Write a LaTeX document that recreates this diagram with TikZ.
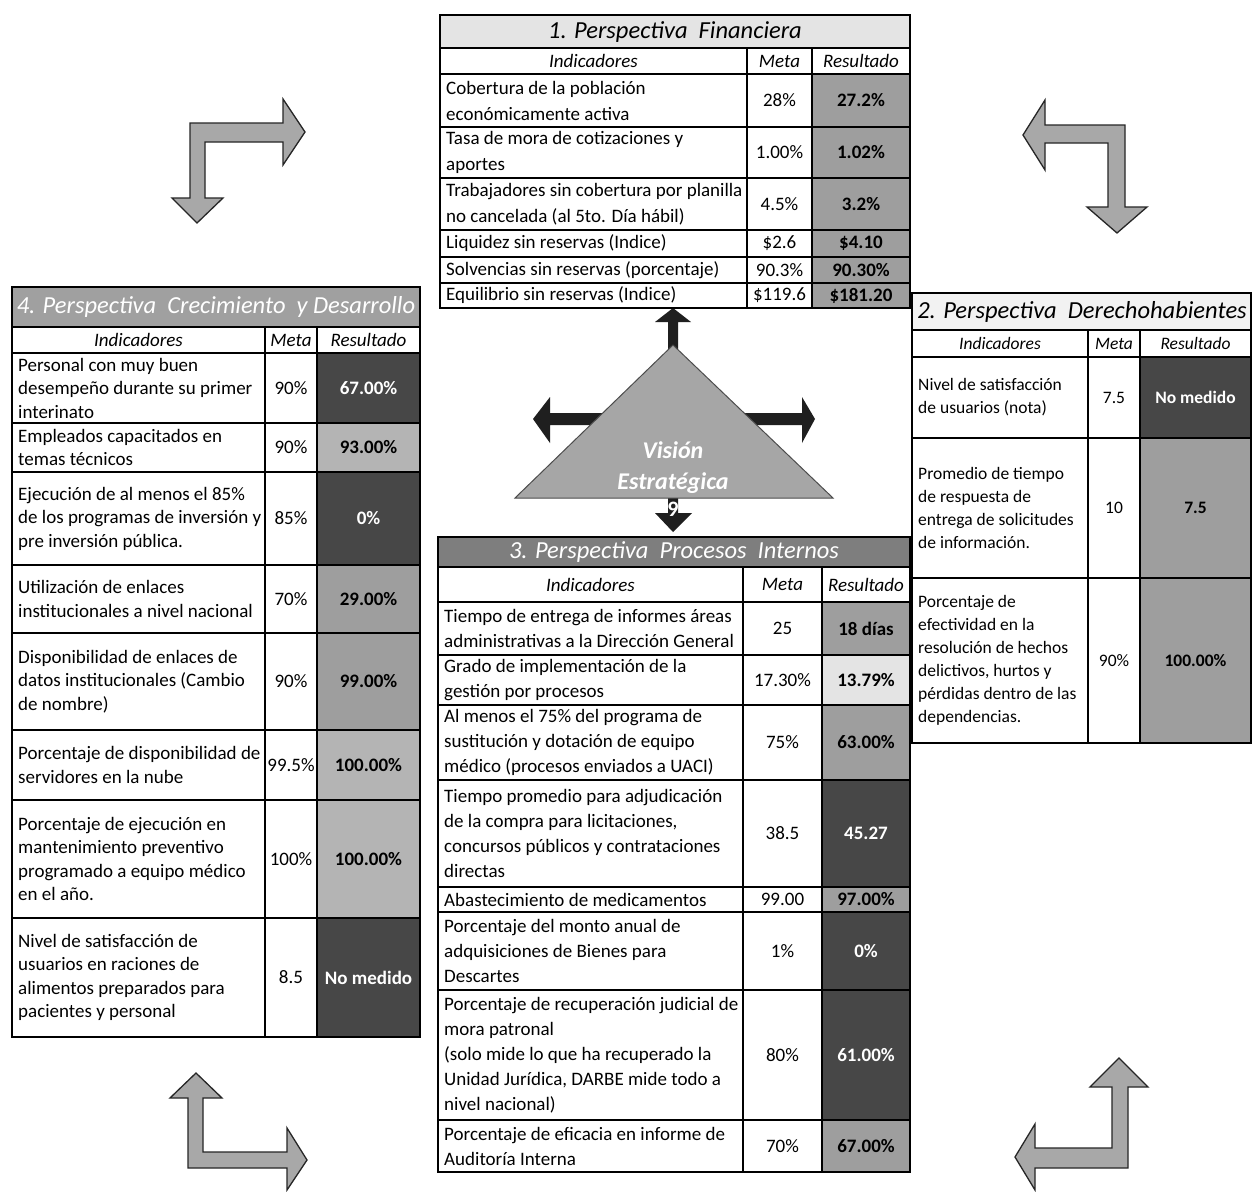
\documentclass[tikz,border=0pt]{standalone}
\usepackage{fontspec}
\setmainfont{Carlito}
\definecolor{dkgray}{HTML}{474747}
\definecolor{mdgray}{HTML}{9E9E9E}
\definecolor{ltgray}{HTML}{B4B4B4}
\definecolor{vlgray}{HTML}{E4E4E4}
\definecolor{xlgray}{HTML}{F2F2F2}
\definecolor{ttlgray}{HTML}{A0A0A0}
\definecolor{procgray}{HTML}{7E7E7E}
\definecolor{arrowgray}{HTML}{A8A8A8}
\definecolor{trigray}{HTML}{A6A6A6}
\def\fsz{19bp}\def\rowskip{25bp}
\newcommand\thead[3]{%
  \draw[grid] (\cA,#2) -- (\cD,#2) (\cA,#3) -- (\cD,#3);
  \node[hd] (#1hi) at ({(\cA+\cB)/2},{(#2+#3)/2}) {Indicadores};
  \node[hd] (#1hm) at ({(\cB+\cC)/2},{(#2+#3)/2}) {Meta};
  \node[hd] (#1hr) at ({(\cC+\cD)/2},{(#2+#3)/2}) {Resultado};
}
\newcommand\trow[8]{%
  \fill[#7] (\cC,#2) rectangle (\cD,#3);
  \draw[grid] (\cA,#2) -- (\cD,#2) (\cA,#3) -- (\cD,#3);
  \node[ind] (#1i) at ({\cA+6},{(#2+#3)/2}) {#4};
  \node[met] (#1m) at ({(\cB+\cC)/2},{(#2+#3)/2}) {#5};
  \node[res,text=#8] (#1r) at ({(\cC+\cD)/2},{(#2+#3)/2}) {#6};
}
\newcommand\tframe[3]{%
  \draw[grid] (\cB,#1) -- (\cB,#2) (\cC,#1) -- (\cC,#2);
  \draw[outer] (\cA,#3) rectangle (\cD,#2);
}
\begin{document}
\begin{tikzpicture}[x=1bp,y=-1bp,
  grid/.style={line width=1.6bp,black},
  outer/.style={line width=2.2bp,black},
  ind/.style={font=\fontsize{\fsz}{\rowskip}\selectfont, align=left, anchor=west, inner sep=0pt},
  met/.style={font=\fontsize{\fsz}{\rowskip}\selectfont, inner sep=0pt},
  res/.style={font=\fontsize{\fsz}{\rowskip}\selectfont\bfseries, inner sep=0pt},
  hd/.style={font=\fontsize{\fsz}{\rowskip}\selectfont\itshape, inner sep=0pt},
  ttl/.style={font=\fontsize{24.5bp}{28bp}\selectfont\itshape, inner sep=0pt},
  bendarrow/.style={fill=arrowgray, draw=black!85, line width=1.3bp, line join=miter},
  blkarrow/.style={fill=black!88, draw=none},
]
\useasboundingbox[fill=white] (0,0) rectangle (1252,1192);

% ---------- bent arrows ----------
\draw[bendarrow] (190,198) -- (172,198) -- (197,223) -- (223,198) -- (205,198) -- (205,142) -- (283,142) -- (283,165) -- (305,132) -- (283,99) -- (283,123) -- (190,123) -- cycle;
\draw[bendarrow] (1108,207) -- (1087,207) -- (1117,233) -- (1147,207) -- (1125,207) -- (1125,125) -- (1045,125) -- (1045,100) -- (1023,135) -- (1045,170) -- (1045,143) -- (1108,143) -- cycle;
\draw[bendarrow] (188,1168) -- (188,1098) -- (170,1098) -- (196,1073) -- (222,1098) -- (203,1098) -- (203,1152) -- (287,1152) -- (287,1128) -- (307,1160) -- (287,1190) -- (287,1168) -- cycle;
\draw[bendarrow] (1128,1168) -- (1128,1087) -- (1148,1087) -- (1119,1058) -- (1090,1087) -- (1112,1087) -- (1112,1148) -- (1035,1148) -- (1035,1124) -- (1015,1157) -- (1035,1190) -- (1035,1168) -- cycle;

% ---------- central vision ----------
\fill[blkarrow] (668,350) -- (668,322) -- (655,322) -- (673,308) -- (691,322) -- (678,322) -- (678,350) -- cycle;
\fill[blkarrow] (620,413) -- (550,413) -- (550,397) -- (533,419) -- (550,443) -- (550,425) -- (620,425) -- cycle;
\fill[blkarrow] (730,413) -- (802,413) -- (802,397) -- (815,419) -- (802,443) -- (802,425) -- (730,425) -- cycle;
\fill[blkarrow] (668,495) -- (668,513) -- (655,513) -- (673,532) -- (692,513) -- (678,513) -- (678,495) -- cycle;
\draw[fill=trigray, draw=black!70, line width=1bp] (673,345) -- (833,498) -- (515,498) -- cycle;
\node[font=\fontsize{24bp}{31bp}\selectfont\itshape\bfseries, text=white, align=center, inner sep=0pt] (vis) at (673,468) {Visión\\Estratégica};
\node[font=\fontsize{22bp}{24bp}\selectfont\bfseries, text=white, inner sep=0pt] (nine) at (673,509) {9};

% ---------- 1. Financiera ----------
\def\cA{440}\def\cB{747}\def\cC{812}\def\cD{910}
\def\rowskip{26bp}
\fill[vlgray] (\cA,15) rectangle (\cD,48);
\node[ttl] (fT) at (675,32) {1. Perspectiva\ \ Financiera};
\thead{f}{48}{74}
\trow{fa}{74}{127}{Cobertura de la población\\económicamente activa}{28\%}{27.2\%}{mdgray}{black}
\trow{fb}{127}{178}{Tasa de mora de cotizaciones y\\aportes}{1.00\%}{1.02\%}{mdgray}{black}
\trow{fc}{178}{230}{Trabajadores sin cobertura por planilla\\no cancelada (al 5to. Día hábil)}{4.5\%}{3.2\%}{mdgray}{black}
\trow{fd}{230}{257}{Liquidez sin reservas (Indice)}{\$2.6}{\$4.10}{mdgray}{black}
\trow{fe}{257}{283}{Solvencias sin reservas (porcentaje)}{90.3\%}{90.30\%}{mdgray}{black}
\trow{ff}{283}{308}{Equilibrio sin reservas (Indice)}{\$119.6}{\$181.20}{mdgray}{black}
\tframe{48}{308}{15}

% ---------- 4. Crecimiento y Desarrollo ----------
\def\cA{12}\def\cB{265}\def\cC{317}\def\cD{420}
\def\rowskip{23.5bp}
\fill[ttlgray] (\cA,287) rectangle (\cD,327);
\node[ttl,text=white] (cT) at (216,307) {4. Perspectiva\ \ Crecimiento\ \ y Desarrollo};
\thead{c}{327}{353}
\trow{ca}{353}{423}{Personal con muy buen\\desempeño durante su primer\\interinato}{90\%}{67.00\%}{dkgray}{white}
\trow{cb}{423}{472}{Empleados capacitados en\\temas técnicos}{90\%}{93.00\%}{ltgray}{black}
\trow{cc}{472}{565}{Ejecución de al menos el 85\%\\de los programas de inversión y\\pre inversión pública.}{85\%}{0\%}{dkgray}{white}
\trow{cd}{565}{633}{Utilización de enlaces\\institucionales a nivel nacional}{70\%}{29.00\%}{mdgray}{black}
\trow{ce}{633}{730}{Disponibilidad de enlaces de\\datos institucionales (Cambio\\de nombre)}{90\%}{99.00\%}{mdgray}{black}
\trow{cf}{730}{800}{Porcentaje de disponibilidad de\\servidores en la nube}{99.5\%}{100.00\%}{ltgray}{black}
\trow{cg}{800}{918}{Porcentaje de ejecución en\\mantenimiento preventivo\\programado a equipo médico\\en el año.}{100\%}{100.00\%}{ltgray}{black}
\trow{ch}{918}{1037}{Nivel de satisfacción de\\usuarios en raciones de\\alimentos preparados para\\pacientes y personal}{8.5}{No medido}{dkgray}{white}
\tframe{327}{1037}{287}

% ---------- 2. Derechohabientes ----------
\def\cA{912}\def\cB{1088}\def\cC{1140}\def\cD{1251}
\def\fsz{17.5bp}\def\rowskip{23bp}
\fill[xlgray] (\cA,293) rectangle (\cD,330);
\node[ttl] (dT) at (1082,312) {2. Perspectiva\ \ Derechohabientes};
\thead{d}{330}{357}
\trow{da}{357}{438}{Nivel de satisfacción\\de usuarios (nota)}{7.5}{No medido}{dkgray}{white}
\trow{db}{438}{578}{Promedio de tiempo\\de respuesta de\\entrega de solicitudes\\de información.}{10}{7.5}{mdgray}{black}
\trow{dc}{578}{743}{Porcentaje de\\efectividad en la\\resolución de hechos\\delictivos, hurtos y\\pérdidas dentro de las\\dependencias.}{90\%}{100.00\%}{mdgray}{black}
\tframe{330}{743}{293}

% ---------- 3. Procesos Internos ----------
\def\cA{438}\def\cB{743}\def\cC{822}\def\cD{910}
\def\fsz{19bp}\def\rowskip{25bp}
\fill[procgray] (\cA,537) rectangle (\cD,567);
\node[ttl,text=white] (pT) at (674,552) {3. Perspectiva\ \ Procesos\ \ Internos};
\thead{p}{567}{602}
\trow{pa}{602}{655}{Tiempo de entrega de informes áreas\\administrativas a la Dirección General}{25}{18 días}{mdgray}{black}
\trow{pb}{655}{705}{Grado de implementación de la\\gestión por procesos}{17.30\%}{13.79\%}{vlgray}{black}
\trow{pc}{705}{780}{Al menos el 75\% del programa de\\sustitución y dotación de equipo\\médico (procesos enviados a UACI)}{75\%}{63.00\%}{mdgray}{black}
\trow{pd}{780}{887}{Tiempo promedio para adjudicación\\de la compra para licitaciones,\\concursos públicos y contrataciones\\directas}{38.5}{45.27}{dkgray}{white}
\trow{pe}{887}{912}{Abastecimiento de medicamentos}{99.00}{97.00\%}{mdgray}{black}
\trow{pf}{912}{990}{Porcentaje del monto anual de\\adquisiciones de Bienes para\\Descartes}{1\%}{0\%}{dkgray}{white}
\trow{pg}{990}{1120}{Porcentaje de recuperación judicial de\\mora patronal\\(solo mide lo que ha recuperado la\\Unidad Jurídica, DARBE mide todo a\\nivel nacional)}{80\%}{61.00\%}{dkgray}{white}
\trow{ph}{1120}{1172}{Porcentaje de eficacia en informe de\\Auditoría Interna}{70\%}{67.00\%}{mdgray}{black}
\tframe{567}{1172}{537}
\end{tikzpicture}
\end{document}
